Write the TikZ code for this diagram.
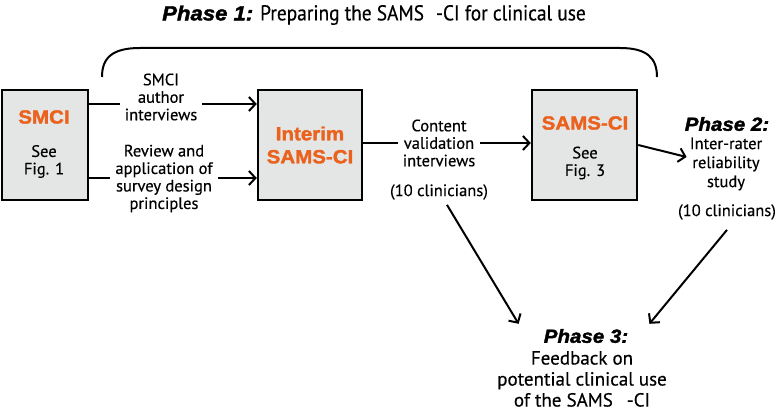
\documentclass[tikz,border=0pt]{standalone}
\usepackage{fontspec}
\setmainfont{PT Sans}[FakeBold=0.4]
\newfontfamily\headfont{Liberation Sans}[BoldFeatures={FakeBold=1.8,FakeStretch=1.08},BoldItalicFeatures={FakeBold=1.8,FakeStretch=1.08}]
\newfontfamily\titlefont{PT Sans}[FakeStretch=0.9,FakeBold=0.4]
\usetikzlibrary{arrows.meta,calc}
\definecolor{orng}{RGB}{234,98,30}
\definecolor{boxgray}{RGB}{228,230,230}
\begin{document}
\begin{tikzpicture}[x=1pt,y=-1pt,
  box/.style={draw, line width=2.4pt, fill=boxgray, inner sep=0pt},
  lbl/.style={align=center, inner sep=5pt, font=\fontsize{16.5}{17.5}\selectfont},
  big/.style={align=center, inner sep=2pt, font=\fontsize{19}{21}\selectfont},
  orangetxt/.style={inner sep=0pt, text=orng, font=\headfont\bfseries\fontsize{19}{23}\selectfont},
  phase/.style={inner sep=1pt, font=\headfont\bfseries\itshape\fontsize{19}{21}\selectfont},
  conn/.style={line width=2pt},
  arr/.style={conn, -{Straight Barb[length=6.5pt,width=14pt,line width=2pt]}}
]
\useasboundingbox (0,0) rectangle (782,412);

% title
\node[inner sep=0pt, font=\titlefont\fontsize{21.5}{23}\selectfont] (title) at (374,15)
  {{\headfont\bfseries\itshape\fontsize{20.5}{23}\selectfont Phase 1:} Preparing the SAMS\hspace{12pt}-CI for clinical use};

% bracket
\draw[conn] (102,77) .. controls (102,58) and (112,48) .. (140,48) -- (620,48)
  .. controls (647,48) and (657,58) .. (657,77);

% boxes
\node[box, minimum width=86pt, minimum height=110pt] (smci) at (45,145) {};
\node[box, minimum width=104pt, minimum height=110pt] (interim) at (310,145) {};
\node[box, minimum width=105pt, minimum height=110pt] (samsci) at (584.5,145) {};

% box texts
\node[orangetxt] (t1) at (44,117) {SMCI};
\node[lbl, inner sep=0pt] (t1b) at (44,161.5) {See\\Fig. 1};
\node[orangetxt, align=center] (t2) at (310,145) {Interim\\SAMS-CI};
\node[orangetxt] (t3) at (585,123) {SAMS-CI};
\node[lbl, inner sep=0pt] (t3b) at (585,163) {See\\Fig. 3};

% labels
\node[lbl] (lab1) at (161,97) {SMCI\\author\\interviews};
\node[lbl] (lab2) at (164,178.5) {Review and\\application of\\survey design\\principles};
\node[lbl] (lab3) at (439,143) {Content\\validation\\interviews};
\node[lbl, inner sep=2pt] (lab3b) at (439,192) {(10 clinicians)};

\node[phase] (p2) at (727,124) {Phase 2:};
\node[lbl, inner sep=3pt, font=\fontsize{16.5}{19}\selectfont] (p2body) at (726,164) {Inter-rater\\reliability\\study};
\node[lbl, inner sep=2pt] (p2c) at (727,212) {(10 clinicians)};

\node[phase] (p3) at (586,336) {Phase 3:};
\node[big] (p3body) at (582,379) {Feedback on\\potential clinical use\\of the SAMS\hspace{14pt}-CI};

% connectors
\coordinate (y1) at (0,104);
\coordinate (y2) at (0,178);
\coordinate (y3) at (0,143);
\draw[conn] (smci.east |- y1) -- (lab1.west |- y1);
\draw[arr] (lab1.east |- y1) -- (interim.west |- y1);
\draw[conn] (smci.east |- y2) -- (lab2.west |- y2);
\draw[arr] (lab2.east |- y2) -- (interim.west |- y2);
\draw[conn] (interim.east |- y3) -- (lab3.west |- y3);
\draw[arr] (lab3.east |- y3) -- (samsci.west |- y3);
\draw[arr] ($(samsci.east)+(0,0)$) -- ($(p2body.west)+(0,-7)$);
\draw[arr] ($(lab3b.south)+(8,3)$) -- ($(p3.north west)+(-24,-4)$);
\draw[arr] ($(p2c.south)+(0,8)$) -- ($(p3.north east)+(20,-4)$);
\end{tikzpicture}
\end{document}
